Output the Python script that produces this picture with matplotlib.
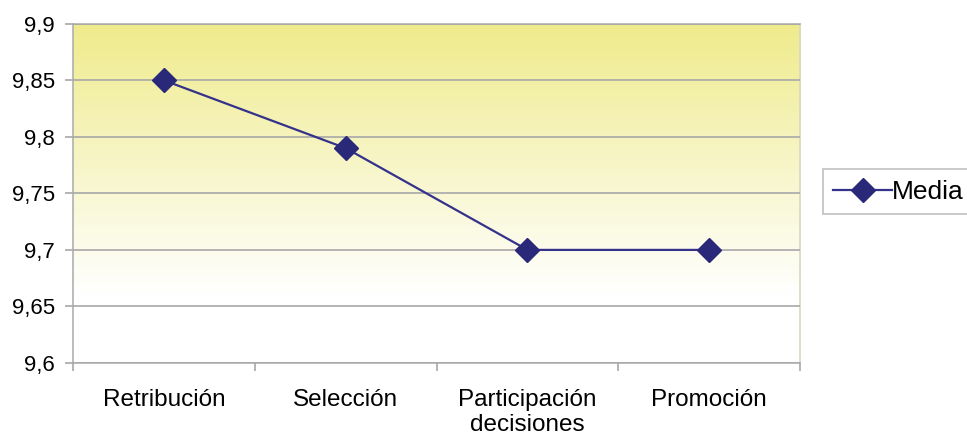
import numpy as np
import matplotlib
matplotlib.use("Agg")
import matplotlib.pyplot as plt
from matplotlib.colors import LinearSegmentedColormap
from matplotlib.ticker import FuncFormatter

# data
categories = ["Retribución", "Selección", "Participación\ndecisiones", "Promoción"]
media = [9.85, 9.79, 9.70, 9.70]
yticks = [9.6, 9.65, 9.7, 9.75, 9.8, 9.85, 9.9]

plt.rcParams['font.family'] = ['Liberation Sans', 'DejaVu Sans']

fig = plt.figure(figsize=(9.67, 4.41), dpi=100)
ax = fig.add_axes([0.0755, 0.177, 0.752, 0.769])

# yellow-to-white background gradient
cmap = LinearSegmentedColormap.from_list("bg", [(0.0, "#ffffff"), (0.2, "#ffffff"), (1.0, "#efeb8c")])
grad = np.linspace(0, 1, 256).reshape(-1, 1)
ax.imshow(grad, aspect="auto", cmap=cmap, origin="lower",
          extent=[0, 1, 0, 1], transform=ax.transAxes, zorder=0)

x = np.arange(len(categories))
ax.plot(x, media, color="#34328a", linewidth=1.6, marker="D", markersize=12,
        markerfacecolor="#2a2878", markeredgecolor="#2a2878", label="Media", zorder=3)

ax.set_xlim(-0.5, len(categories) - 0.5)
ax.set_ylim(9.6, 9.9)
ax.set_yticks(yticks)
ax.yaxis.set_major_formatter(FuncFormatter(lambda v, p: ("%g" % round(v, 2)).replace(".", ",")))
ax.yaxis.grid(True, color="#a8a8a8", linewidth=1.2, zorder=1)
ax.set_axisbelow(False)

ax.set_xticks(x)
ax.set_xticklabels(categories, linespacing=1.15)
ax.set_xticks(np.arange(len(categories) + 1) - 0.5, minor=True)
ax.tick_params(axis="x", which="major", length=0, pad=19, labelsize=17.5)
ax.tick_params(axis="x", which="minor", length=6, color="#a8a8a8", width=1.2)
ax.tick_params(axis="y", length=6, color="#a8a8a8", width=1.2, labelsize=16, pad=7)

for s in ax.spines.values():
    s.set_color("#b0b0b0")
    s.set_linewidth(1.2)
ax.spines["right"].set_color("#d8d8c0")

leg = fig.legend(loc="center left", bbox_to_anchor=(0.851, 0.565), fontsize=19,
                 frameon=True, fancybox=False, edgecolor="#b0b0b0", borderaxespad=0,
                 handlelength=2.2, handletextpad=0.0, borderpad=0.4)
leg.get_frame().set_linewidth(1.2)

fig.savefig("out.png", dpi=100, facecolor="white")
